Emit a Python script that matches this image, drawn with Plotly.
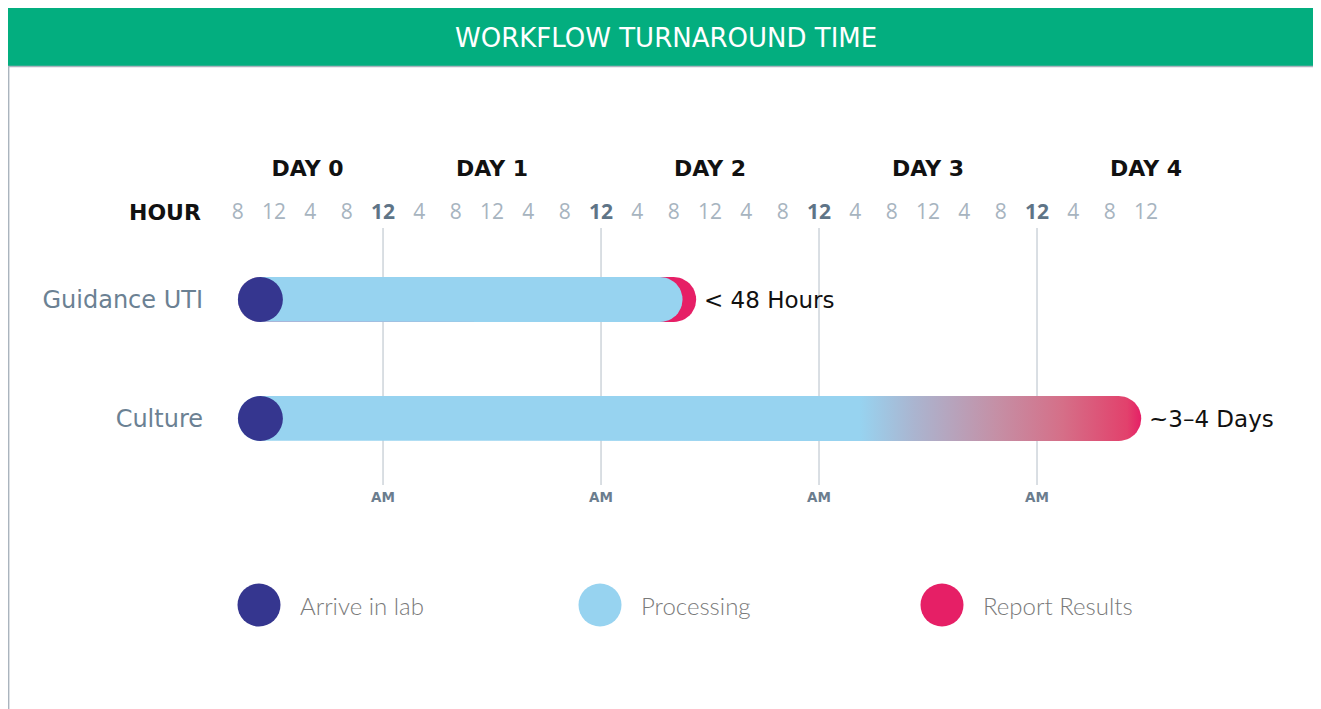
import math
import plotly.graph_objects as go

# ---------------- data ----------------
rows = ["Guidance UTI", "Culture"]
arrive_h = [2.5, 2.5]            # hours after 8 AM Day 0 (circle centre)
processing_end_h = [46.5, 68.5]  # end of solid "processing" colour
report_h = [48, 97]              # report results (end cap centre)
result_labels = ["< 48 Hours", "~3–4 Days"]

hour_ticks = [0, 4, 8, 12, 16, 20, 24, 28, 32, 36, 40, 44, 48, 52, 56, 60, 64, 68, 72, 76, 80, 84, 88, 92, 96, 100]
hour_labels = ["8", "12", "4", "8", "12", "4", "8", "12", "4", "8", "12", "4", "8", "12",
               "4", "8", "12", "4", "8", "12", "4", "8", "12", "4", "8", "12"]
midnight_h = [16, 40, 64, 88]
day_pos_h = [7.7, 28, 52, 76, 100]
day_labels = ["DAY 0", "DAY 1", "DAY 2", "DAY 3", "DAY 4"]
legend_labels = ["Arrive in lab", "Processing", "Report Results"]

# ---------------- style ----------------
OFF = 8                      # page body margin
W, H = 1321 - 2 * OFF, 709 - OFF
X0_PX, PX_PER_H = 237.7 - OFF, 9.083
ROW0_PX, ROW_PX = 299.5 - OFF, 119
BAR_PX = 45
NAVY = "#35368f"
BLUE = "#97d3f0"
PINK = "#e61f66"
GREEN = "#03ae7f"
GRID = "#b4bec8"
TICK_GRAY = "#a7b4bf"
TICK_BOLD = "#5e7487"
ROW_COL = "#6b8193"
LEG_COL = "#7a7a7a"
WIDE = "DejaVu Sans"

xr = [-X0_PX / PX_PER_H, (W - X0_PX) / PX_PER_H]
yr = [(H - ROW0_PX) / ROW_PX, -ROW0_PX / ROW_PX]
half = (BAR_PX / 2) / ROW_PX
rad_h = (BAR_PX / 2) / PX_PER_H


def py(ref_px):
    return 1 - (ref_px - OFF) / H


def pxx(ref_px):
    return (ref_px - OFF) / W


fig = go.Figure()


def pill(x0, x1, r, **kw):
    xs, ys = [], []
    n = 24
    for k in range(n + 1):  # right cap, top -> bottom
        a = math.pi / 2 - math.pi * k / n
        xs.append(x1 + rad_h * math.cos(a))
        ys.append(r - half * math.sin(a))
    for k in range(n + 1):  # left cap, bottom -> top
        a = -math.pi / 2 - math.pi * k / n
        xs.append(x0 + rad_h * math.cos(a))
        ys.append(r - half * math.sin(a))
    xs.append(xs[0])
    ys.append(ys[0])
    return go.Scatter(x=xs, y=ys, mode="lines", fill="toself",
                      line=dict(width=0, color="rgba(0,0,0,0)"),
                      hoverinfo="skip", showlegend=False, **kw)


def dot(x, r, color):
    return go.Scatter(x=[x], y=[r], mode="markers",
                      marker=dict(size=BAR_PX, color=color, line=dict(width=0)),
                      hoverinfo="skip", showlegend=False)


# Guidance UTI (row 0)
r = 0
fig.add_trace(pill(arrive_h[r], report_h[r], r, fillcolor=PINK))
fig.add_trace(pill(arrive_h[r], processing_end_h[r], r, fillcolor=BLUE))
fig.add_trace(dot(arrive_h[r], r, NAVY))

# Culture (row 1) with gradient
r = 1
fig.add_trace(pill(arrive_h[r], report_h[r], r,
                   fillgradient=dict(type="horizontal", start=processing_end_h[r], stop=report_h[r] + rad_h,
                                     colorscale=[[0, BLUE], [0.19, "#aab5d0"], [0.49, "#c58fa5"],
                                                 [0.72, "#d56f88"], [0.95, "#e2416c"], [1, PINK]])))
fig.add_trace(dot(arrive_h[r], r, NAVY))

# result labels
for i, lab in enumerate(result_labels):
    fig.add_annotation(x=report_h[i], y=i, text=lab, showarrow=False, xanchor="left", yanchor="middle",
                       xshift=28, font=dict(family=WIDE, size=23, color="#111111"))

# midnight grid lines
shapes = []
for m in midnight_h:
    shapes.append(dict(type="line", xref="x", yref="paper", x0=m, x1=m, y0=py(485), y1=py(228),
                       line=dict(color=GRID, width=1), layer="below"))

# header and frame
shapes += [
    dict(type="rect", xref="paper", yref="paper", x0=0, x1=1, y0=py(66), y1=1, fillcolor=GREEN,
         line=dict(width=0), layer="above"),
    dict(type="line", xref="paper", yref="paper", x0=0, x1=1, y0=py(66.5), y1=py(66.5),
         line=dict(color="#aab4be", width=1.5), layer="above"),
    dict(type="line", xref="paper", yref="paper", x0=0.0005, x1=0.0005, y0=0, y1=py(66),
         line=dict(color="#aab4be", width=1.5), layer="above"),
]

# legend (custom)
leg_px = [259, 600, 942]
leg_cols = [NAVY, BLUE, PINK]
for lx, lab, c in zip(leg_px, legend_labels, leg_cols):
    shapes.append(dict(type="circle", xref="paper", yref="paper", xsizemode="pixel", ysizemode="pixel",
                       xanchor=pxx(lx), yanchor=py(605), x0=-21.5, x1=21.5, y0=-21.5, y1=21.5,
                       fillcolor=c, line=dict(width=0), layer="above"))
    fig.add_annotation(xref="paper", yref="paper", x=pxx(lx + 39), y=py(605), text=lab, showarrow=False,
                       xanchor="left", yanchor="middle",
                       font=dict(family="Lato", size=24, color=LEG_COL, weight=300))

# title
fig.add_annotation(xref="paper", yref="paper", x=pxx(665.5), y=py(38), text="WORKFLOW TURNAROUND TIME",
                   showarrow=False, xanchor="center", yanchor="middle",
                   font=dict(family=WIDE, size=26, color="white"))
# HOUR label
fig.add_annotation(xref="paper", yref="paper", x=pxx(165), y=py(212), text="<b>HOUR</b>", showarrow=False,
                   xanchor="center", yanchor="middle", font=dict(family=WIDE, size=22, color="#111111"))

tick_text = []
for h, lab in zip(hour_ticks, hour_labels):
    if h in midnight_h:
        tick_text.append(f"<b><span style='color:{TICK_BOLD}'>{lab}</span></b>")
    else:
        tick_text.append(lab)

fig.update_layout(
    width=W, height=H, margin=dict(l=0, r=0, t=0, b=0),
    paper_bgcolor="white", plot_bgcolor="rgba(0,0,0,0)",
    showlegend=False, shapes=shapes,
    xaxis=dict(range=xr, anchor="free", position=py(223), side="top", tickmode="array",
               tickvals=hour_ticks, ticktext=tick_text, showgrid=False, zeroline=False, showline=False,
               ticks="", tickfont=dict(family="Open Sans", size=21, color=TICK_GRAY), fixedrange=True),
    xaxis2=dict(range=xr, overlaying="x", anchor="free", position=py(180), side="top", tickmode="array",
                tickvals=day_pos_h, ticktext=[f"<b>{d}</b>" for d in day_labels], showgrid=False,
                zeroline=False, showline=False, ticks="",
                tickfont=dict(family=WIDE, size=22, color="#111111")),
    xaxis3=dict(range=xr, overlaying="x", anchor="free", position=py(487), side="bottom", tickmode="array",
                tickvals=midnight_h, ticktext=["<b>AM</b>"] * len(midnight_h), showgrid=False,
                zeroline=False, showline=False, ticks="",
                tickfont=dict(family=WIDE, size=13.5, color="#6b7d8e")),
    yaxis=dict(range=yr, anchor="free", position=pxx(203), side="left", tickmode="array",
               tickvals=list(range(len(rows))), ticktext=rows, showgrid=False, zeroline=False,
               showline=False, ticks="", tickfont=dict(family=WIDE, size=24, color=ROW_COL)),
)

# dummy traces so overlay axes render
fig.add_trace(go.Scatter(x=[None], y=[None], xaxis="x2", showlegend=False, hoverinfo="skip"))
fig.add_trace(go.Scatter(x=[None], y=[None], xaxis="x3", showlegend=False, hoverinfo="skip"))

fig.write_html("out.html")
